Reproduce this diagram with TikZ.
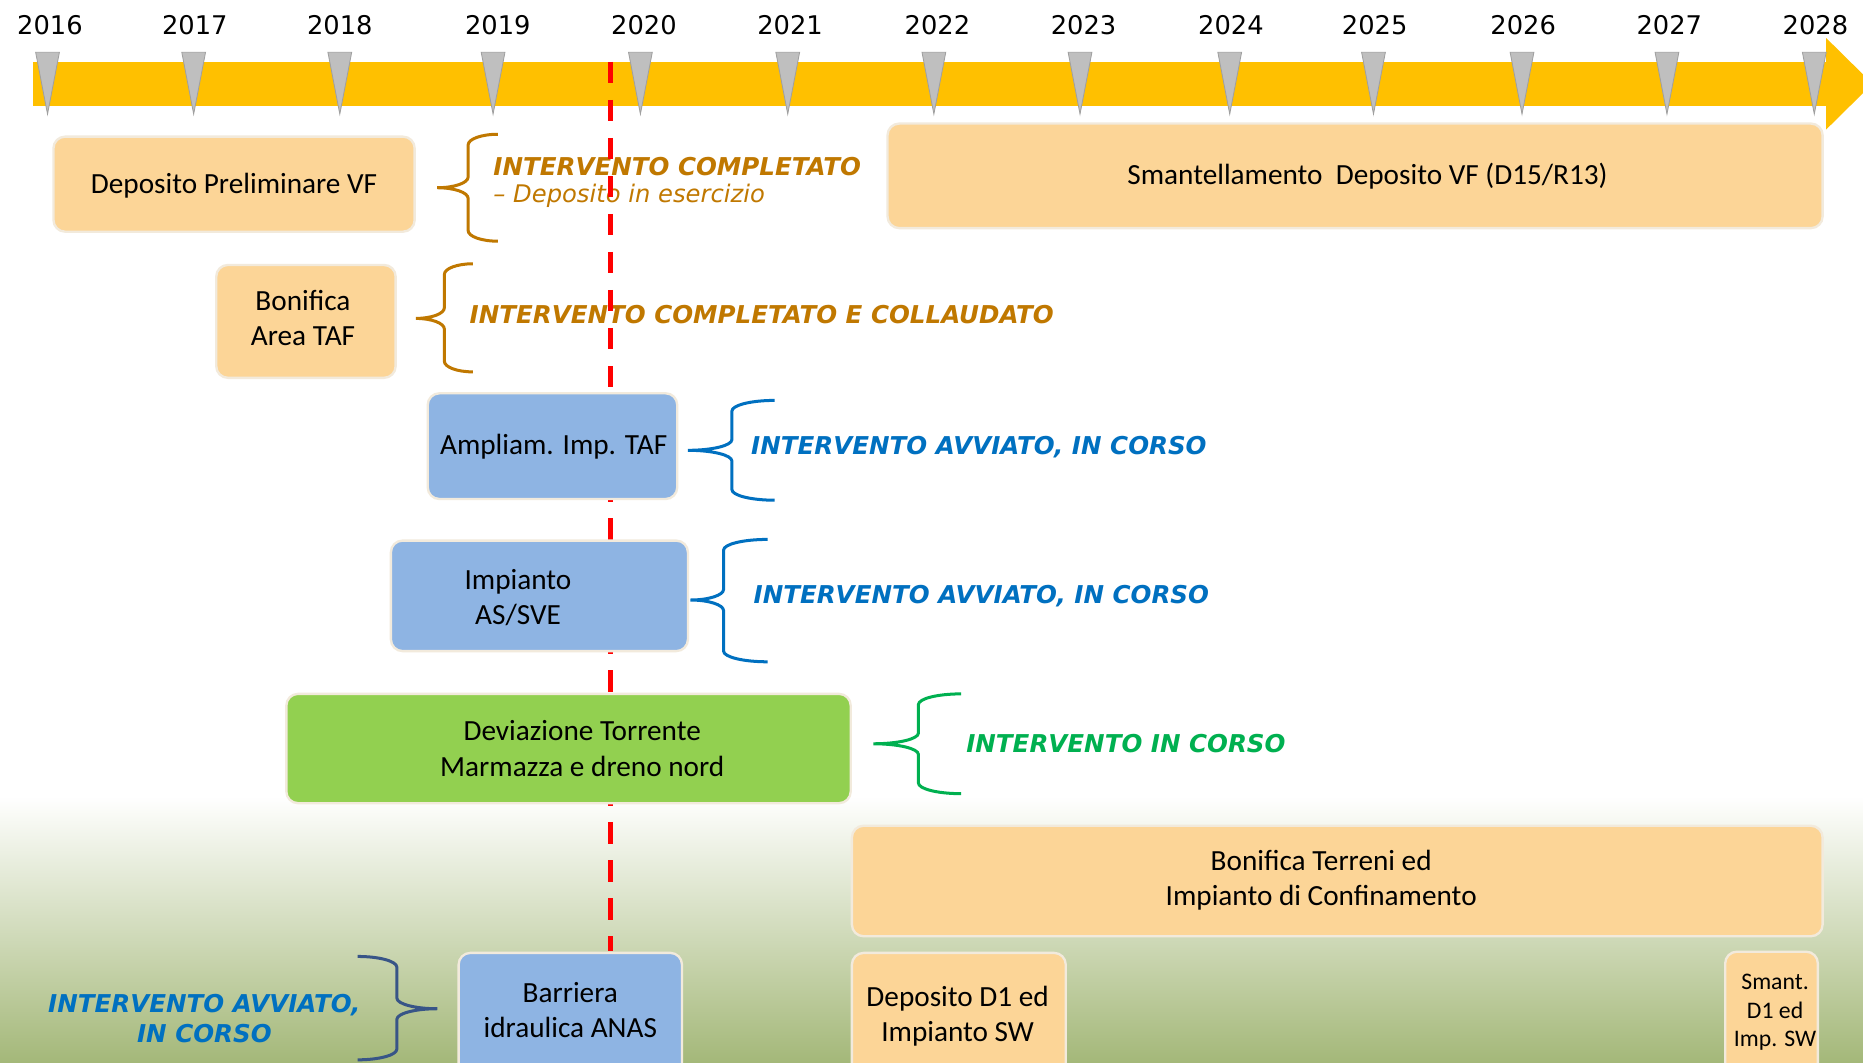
\documentclass[tikz,border=0pt]{standalone}
\usepackage{fontspec}
\setmainfont{Carlito}
\newfontfamily\yearfont{DejaVu Sans}
\newfontfamily\statusfont{DejaVu Sans}[BoldFont={DejaVu Sans Bold},ItalicFont={DejaVu Sans Oblique},BoldItalicFont={DejaVu Sans Bold Oblique}]

\definecolor{timeyellow}{RGB}{255,192,0}
\definecolor{markgray}{RGB}{191,191,191}
\definecolor{markedge}{RGB}{160,160,160}
\definecolor{taskorange}{RGB}{252,213,151}
\definecolor{taskblue}{RGB}{142,180,227}
\definecolor{taskgreen}{RGB}{146,208,80}
\definecolor{taskedge}{RGB}{242,234,220}
\definecolor{doneorange}{RGB}{192,120,0}
\definecolor{runblue}{RGB}{0,112,192}
\definecolor{rungreen}{RGB}{0,176,80}
\definecolor{bracenavy}{RGB}{56,85,135}
\definecolor{groundgreen}{RGB}{164,184,121}

\begin{document}
\begin{tikzpicture}[x=0.025cm,y=-0.025cm,
  task/.style={draw=taskedge,line width=1.4pt,rounded corners=7pt},
  tasktext/.style={align=center,inner sep=0pt,font=\fontsize{17.5}{21}\selectfont},
  smalltext/.style={font=\fontsize{14.2}{17}\selectfont},
  yearlabel/.style={inner sep=0pt,font=\yearfont\fontsize{15.4}{18}\selectfont},
  marker/.style={fill=markgray,draw=markedge,line width=0.5pt},
  status/.style={anchor=west,inner sep=0pt,font=\statusfont\bfseries\itshape\fontsize{14.7}{17.8}\selectfont}]
  \newcommand\drawtask[9][]{\draw[task,fill=#2] (#3,#4) rectangle (#5,#6);\node[tasktext,#1] (#7) at #8 {#9};}
  \newcommand\drawbrace[7]{\draw[#1,line width=1.8pt] (#4,#5) .. controls ({#4-0.552*(#4-#3)},#5) and (#3,{#5+4}) .. (#3,{#5+9})
    -- (#3,{#6-9}) .. controls (#3,{#6-4}) and ({#2+0.552*(#3-#2)},#6) .. (#2,#6)
    .. controls ({#2+0.552*(#3-#2)},#6) and (#3,{#6+4}) .. (#3,{#6+9})
    -- (#3,{#7-9}) .. controls (#3,{#7-4}) and ({#4-0.552*(#4-#3)},#7) .. (#4,#7);}
  \useasboundingbox (0,0) rectangle (1568,894);
  \clip (0,0) rectangle (1568,894);

% background
  \fill[white] (0,0) rectangle (1568,670);
  \shade[top color=white,bottom color=groundgreen] (0,670) rectangle (1568,894);

% time axis
  \fill[timeyellow] (28,52) rectangle (1537,89);
  \fill[timeyellow] (1537,32) -- (1576,70.5) -- (1537,109) -- cycle;
  \foreach \x/\lx/\yr in {40/42/2016,163/164/2017,286/286/2018,415/419/2019,539/542/2020,663/665/2021,786/789/2022,909/912/2023,1035/1036/2024,1156/1157/2025,1281/1282/2026,1403/1405/2027,1527/1528/2028}{
    \filldraw[marker] (\x-10,44) -- (\x+10,44) -- (\x,96) -- cycle;
    \node[yearlabel] (year\yr) at (\lx,21) {\yr};
  }

% state of the works
  \node[status,doneorange] (statoDeposito) at (415,140) {INTERVENTO COMPLETATO};
  \node[status,doneorange,font=\statusfont\itshape\fontsize{14.5}{17.8}\selectfont] (eserDeposito) at (415,165) {– Deposito in esercizio};
  \node[status,doneorange] (statoBonifica) at (395,265) {INTERVENTO COMPLETATO E COLLAUDATO};
  \node[status,runblue] (statoAmpliam) at (632,376) {INTERVENTO AVVIATO, IN CORSO};
  \node[status,runblue] (statoAsve) at (634,502) {INTERVENTO AVVIATO, IN CORSO};
  \node[status,rungreen] (statoDeviazione) at (813,626) {INTERVENTO IN CORSO};
  \node[status,runblue,anchor=center,align=center] (statoBarriera) at (172,857) {INTERVENTO AVVIATO,\\IN CORSO};

  \drawbrace{doneorange}{368}{394}{419}{113}{158}{203}
  \drawbrace{doneorange}{350}{374}{398}{222}{268}{313}
  \drawbrace{runblue}{579}{616}{652}{337}{379}{421}
  \drawbrace{runblue}{581}{609}{646}{454}{505}{557}
  \drawbrace{rungreen}{735}{773}{809}{584}{626}{668}
  \drawbrace{bracenavy}{368}{334}{301}{805}{849}{892}

% today
  \draw[red,line width=3.2pt,dash pattern=on 0.45cm off 0.35cm] (514,52) -- (514,800);

% works
  \drawtask{taskorange}{45}{115}{349}{195}{deposito}{(197,156)}{Deposito Preliminare VF}
  \drawtask{taskorange}{747}{104}{1534}{192}{smantVF}{(1151,148)}{Smantellamento\ \ Deposito VF (D15/R13)}
  \drawtask{taskorange}{182}{223}{333}{318}{bonificaTAF}{(255,268)}{Bonifica\\Area TAF}
  \drawtask{taskblue}{360}{331}{570}{420}{ampliam}{(466,376)}{Ampliam. Imp. TAF}
  \drawtask{taskblue}{329}{455}{579}{548}{asve}{(436,503)}{Impianto\\AS/SVE}
  \drawtask{taskgreen}{241}{584}{716}{676}{deviazione}{(490,630)}{Deviazione Torrente\\Marmazza e dreno nord}
  \drawtask{taskorange}{717}{695}{1534}{788}{bonificaTerreni}{(1112,741)}{Bonifica Terreni ed\\Impianto di Confinamento}
  \drawtask{taskblue}{386}{802}{574}{910}{barriera}{(480,850)}{Barriera\\idraulica ANAS}
  \drawtask{taskorange}{717}{802}{897}{910}{depositoD1}{(806,855)}{Deposito D1 ed\\Impianto SW}
  \drawtask[smalltext]{taskorange}{1452}{801}{1530}{910}{smantD1}{(1494,852)}{Smant.\\D1 ed\\Imp. SW}

\end{tikzpicture}
\end{document}
